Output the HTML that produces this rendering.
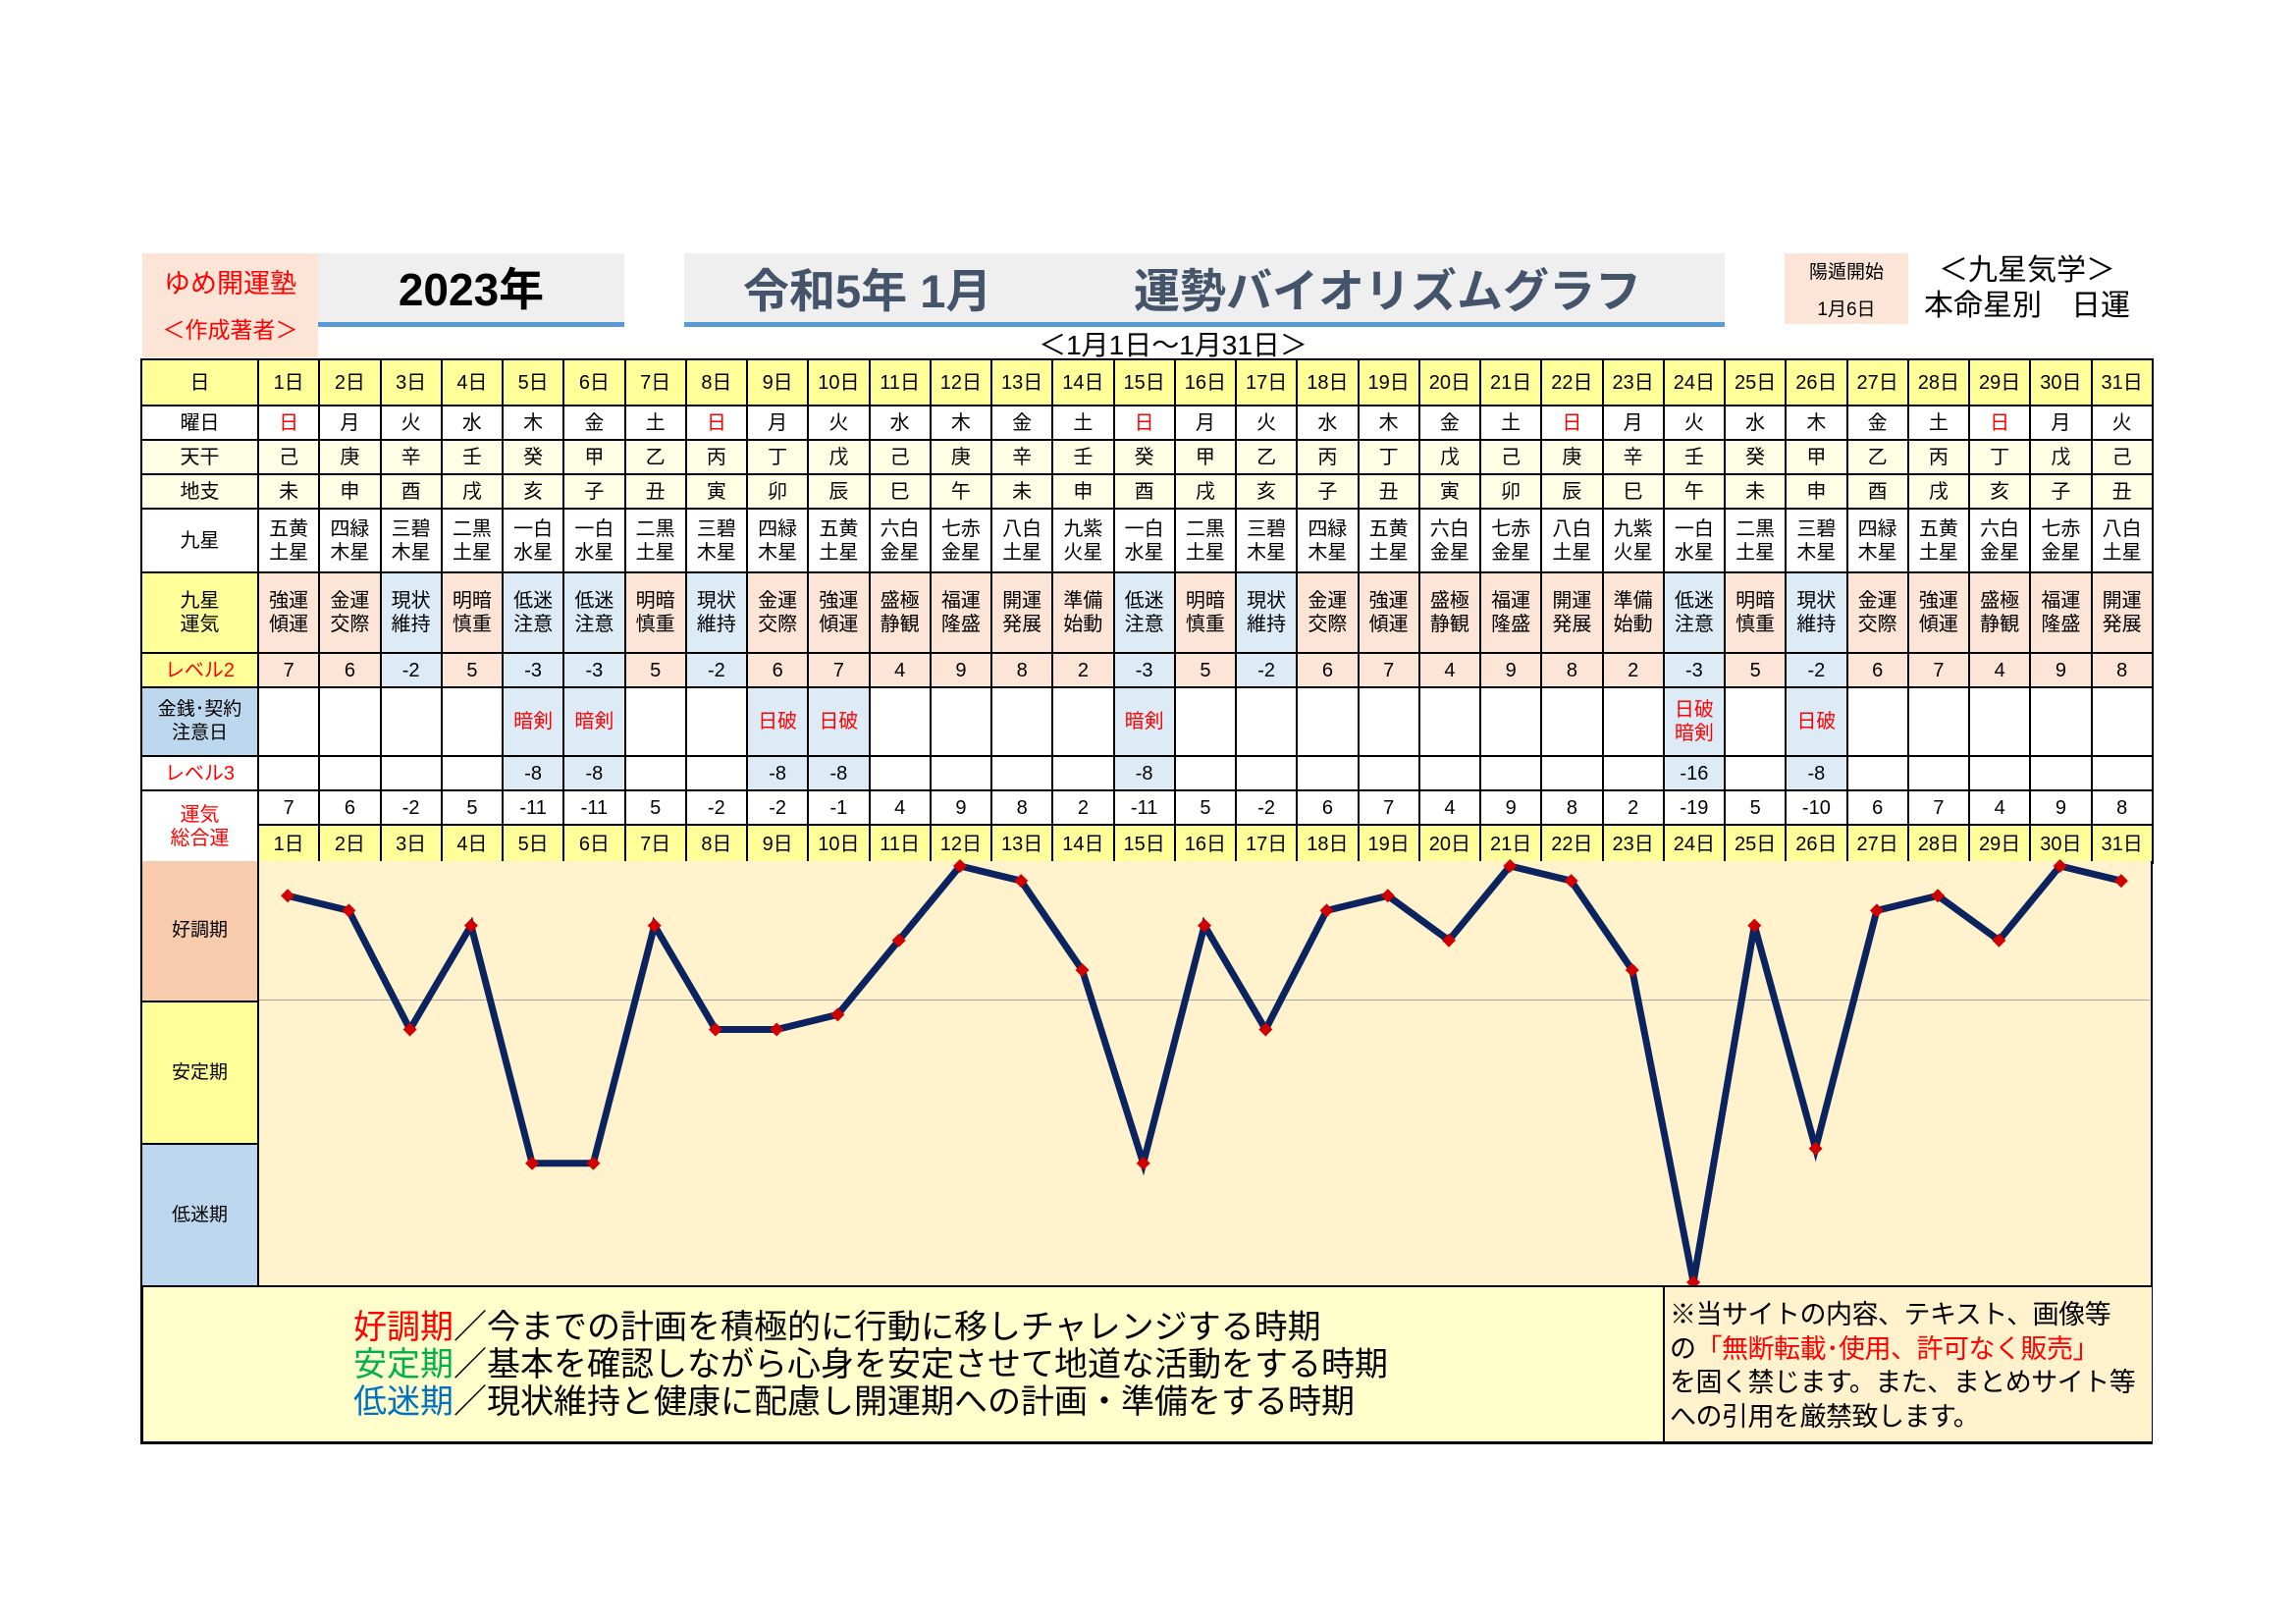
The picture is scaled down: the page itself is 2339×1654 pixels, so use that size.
<!DOCTYPE html>
<html><head><meta charset="utf-8"><style>
body{margin:0;width:2339px;height:1654px;background:#fff;position:relative;overflow:hidden;font-family:"Liberation Sans","Noto Sans CJK JP",sans-serif;}
.a{position:absolute;}
table{position:absolute;left:143px;top:365px;width:2050px;border-collapse:collapse;table-layout:fixed;}
td{border:2px solid #000;text-align:center;font-size:20px;padding:0;line-height:24px;overflow:hidden;}
td.h{background:#FFFF99;}
.r1 td{height:45px;background:#FFFF99;}
.r2 td{height:33px;background:#fff;}
.r3 td{height:33px;background:#FFFFE5;}
.r4 td{height:33px;background:#FFFFE5;}
.r5 td{height:63px;background:#fff;}
.r6 td{height:80px;}
.r7 td{height:33px;}
.r8 td{height:68px;background:#fff;}
.r9 td{height:33px;background:#fff;}
.r10 td{height:33px;background:#fff;}
.r11 td{height:37px;background:#FFFF99;}
.p{background:#FCE4D6 !important;}
.b{background:#DDEBF7 !important;}
.red{color:#f00;}
</style></head><body>
<div class="a" style="left:145px;top:258px;width:179px;height:106px;background:#FCE4D6;"></div>
<div class="a red" style="left:145px;top:267px;width:179px;text-align:center;font-size:27px;">ゆめ開運塾</div>
<div class="a red" style="left:145px;top:317px;width:179px;text-align:center;font-size:23px;">＜作成著者＞</div>
<div class="a" style="left:324px;top:258px;width:312px;height:70px;background:#EFEFEF;border-bottom:5px solid #5B9BD5;"></div>
<div class="a" style="left:324px;top:259px;width:312px;text-align:center;font-size:46px;font-weight:bold;">2023年</div>
<div class="a" style="left:697px;top:258px;width:1060px;height:70px;background:#EFEFEF;border-bottom:5px solid #5B9BD5;"></div>
<div class="a" style="left:757px;top:258px;font-size:47px;font-weight:bold;color:#44546A;">令和5年 1月</div>
<div class="a" style="left:1155px;top:258px;font-size:47px;font-weight:bold;color:#44546A;">運勢バイオリズムグラフ</div>
<div class="a" style="left:1818px;top:258px;width:126px;height:72px;background:#FCE4D6;"></div>
<div class="a" style="left:1818px;top:262px;width:126px;text-align:center;font-size:19px;">陽遁開始</div>
<div class="a" style="left:1818px;top:300px;width:126px;text-align:center;font-size:19px;">1月6日</div>
<div class="a" style="left:1955px;top:258px;width:220px;text-align:center;font-size:30px;line-height:36px;">＜九星気学＞<br>本命星別　日運</div>
<div class="a" style="left:995px;top:330px;width:400px;text-align:center;font-size:28px;">＜1月1日～1月31日＞</div>

<table>
<colgroup><col style="width:119px"><col span="31" style="width:62.26px"></colgroup>
<tr class="r1"><td>日</td><td>1日</td><td>2日</td><td>3日</td><td>4日</td><td>5日</td><td>6日</td><td>7日</td><td>8日</td><td>9日</td><td>10日</td><td>11日</td><td>12日</td><td>13日</td><td>14日</td><td>15日</td><td>16日</td><td>17日</td><td>18日</td><td>19日</td><td>20日</td><td>21日</td><td>22日</td><td>23日</td><td>24日</td><td>25日</td><td>26日</td><td>27日</td><td>28日</td><td>29日</td><td>30日</td><td>31日</td></tr>
<tr class="r2"><td class="h">曜日</td><td class="red">日</td><td>月</td><td>火</td><td>水</td><td>木</td><td>金</td><td>土</td><td class="red">日</td><td>月</td><td>火</td><td>水</td><td>木</td><td>金</td><td>土</td><td class="red">日</td><td>月</td><td>火</td><td>水</td><td>木</td><td>金</td><td>土</td><td class="red">日</td><td>月</td><td>火</td><td>水</td><td>木</td><td>金</td><td>土</td><td class="red">日</td><td>月</td><td>火</td></tr>
<tr class="r3"><td class="h">天干</td><td>己</td><td>庚</td><td>辛</td><td>壬</td><td>癸</td><td>甲</td><td>乙</td><td>丙</td><td>丁</td><td>戊</td><td>己</td><td>庚</td><td>辛</td><td>壬</td><td>癸</td><td>甲</td><td>乙</td><td>丙</td><td>丁</td><td>戊</td><td>己</td><td>庚</td><td>辛</td><td>壬</td><td>癸</td><td>甲</td><td>乙</td><td>丙</td><td>丁</td><td>戊</td><td>己</td></tr>
<tr class="r4"><td class="h">地支</td><td>未</td><td>申</td><td>酉</td><td>戌</td><td>亥</td><td>子</td><td>丑</td><td>寅</td><td>卯</td><td>辰</td><td>巳</td><td>午</td><td>未</td><td>申</td><td>酉</td><td>戌</td><td>亥</td><td>子</td><td>丑</td><td>寅</td><td>卯</td><td>辰</td><td>巳</td><td>午</td><td>未</td><td>申</td><td>酉</td><td>戌</td><td>亥</td><td>子</td><td>丑</td></tr>
<tr class="r5"><td class="h">九星</td><td>五黄<br>土星</td><td>四緑<br>木星</td><td>三碧<br>木星</td><td>二黒<br>土星</td><td>一白<br>水星</td><td>一白<br>水星</td><td>二黒<br>土星</td><td>三碧<br>木星</td><td>四緑<br>木星</td><td>五黄<br>土星</td><td>六白<br>金星</td><td>七赤<br>金星</td><td>八白<br>土星</td><td>九紫<br>火星</td><td>一白<br>水星</td><td>二黒<br>土星</td><td>三碧<br>木星</td><td>四緑<br>木星</td><td>五黄<br>土星</td><td>六白<br>金星</td><td>七赤<br>金星</td><td>八白<br>土星</td><td>九紫<br>火星</td><td>一白<br>水星</td><td>二黒<br>土星</td><td>三碧<br>木星</td><td>四緑<br>木星</td><td>五黄<br>土星</td><td>六白<br>金星</td><td>七赤<br>金星</td><td>八白<br>土星</td></tr>
<tr class="r6"><td class="h">九星<br>運気</td><td class="p">強運<br>傾運</td><td class="p">金運<br>交際</td><td class="b">現状<br>維持</td><td class="p">明暗<br>慎重</td><td class="b">低迷<br>注意</td><td class="b">低迷<br>注意</td><td class="p">明暗<br>慎重</td><td class="b">現状<br>維持</td><td class="p">金運<br>交際</td><td class="p">強運<br>傾運</td><td class="p">盛極<br>静観</td><td class="p">福運<br>隆盛</td><td class="p">開運<br>発展</td><td class="p">準備<br>始動</td><td class="b">低迷<br>注意</td><td class="p">明暗<br>慎重</td><td class="b">現状<br>維持</td><td class="p">金運<br>交際</td><td class="p">強運<br>傾運</td><td class="p">盛極<br>静観</td><td class="p">福運<br>隆盛</td><td class="p">開運<br>発展</td><td class="p">準備<br>始動</td><td class="b">低迷<br>注意</td><td class="p">明暗<br>慎重</td><td class="b">現状<br>維持</td><td class="p">金運<br>交際</td><td class="p">強運<br>傾運</td><td class="p">盛極<br>静観</td><td class="p">福運<br>隆盛</td><td class="p">開運<br>発展</td></tr>
<tr class="r7"><td class="h red">レベル2</td><td class="p">7</td><td class="p">6</td><td class="b">-2</td><td class="p">5</td><td class="b">-3</td><td class="b">-3</td><td class="p">5</td><td class="b">-2</td><td class="p">6</td><td class="p">7</td><td class="p">4</td><td class="p">9</td><td class="p">8</td><td class="p">2</td><td class="b">-3</td><td class="p">5</td><td class="b">-2</td><td class="p">6</td><td class="p">7</td><td class="p">4</td><td class="p">9</td><td class="p">8</td><td class="p">2</td><td class="b">-3</td><td class="p">5</td><td class="b">-2</td><td class="p">6</td><td class="p">7</td><td class="p">4</td><td class="p">9</td><td class="p">8</td></tr>
<tr class="r8"><td style="background:#BDD7EE;font-size:19px;">金銭･契約<br>注意日</td><td></td><td></td><td></td><td></td><td class="b red">暗剣</td><td class="b red">暗剣</td><td></td><td></td><td class="b red">日破</td><td class="b red">日破</td><td></td><td></td><td></td><td></td><td class="b red">暗剣</td><td></td><td></td><td></td><td></td><td></td><td></td><td></td><td></td><td class="b red">日破<br>暗剣</td><td></td><td class="b red">日破</td><td></td><td></td><td></td><td></td><td></td></tr>
<tr class="r9"><td class="h red">レベル3</td><td></td><td></td><td></td><td></td><td class="b">-8</td><td class="b">-8</td><td></td><td></td><td class="b">-8</td><td class="b">-8</td><td></td><td></td><td></td><td></td><td class="b">-8</td><td></td><td></td><td></td><td></td><td></td><td></td><td></td><td></td><td class="b">-16</td><td></td><td class="b">-8</td><td></td><td></td><td></td><td></td><td></td></tr>
<tr class="r10"><td class="h red" rowspan="2">運気<br>総合運</td><td>7</td><td>6</td><td>-2</td><td>5</td><td>-11</td><td>-11</td><td>5</td><td>-2</td><td>-2</td><td>-1</td><td>4</td><td>9</td><td>8</td><td>2</td><td>-11</td><td>5</td><td>-2</td><td>6</td><td>7</td><td>4</td><td>9</td><td>8</td><td>2</td><td>-19</td><td>5</td><td>-10</td><td>6</td><td>7</td><td>4</td><td>9</td><td>8</td></tr>
<tr class="r11"><td>1日</td><td>2日</td><td>3日</td><td>4日</td><td>5日</td><td>6日</td><td>7日</td><td>8日</td><td>9日</td><td>10日</td><td>11日</td><td>12日</td><td>13日</td><td>14日</td><td>15日</td><td>16日</td><td>17日</td><td>18日</td><td>19日</td><td>20日</td><td>21日</td><td>22日</td><td>23日</td><td>24日</td><td>25日</td><td>26日</td><td>27日</td><td>28日</td><td>29日</td><td>30日</td><td>31日</td></tr>
</table>

<div class="a" style="left:143px;top:877px;width:2046px;height:434px;border:2px solid #000;border-top:none;border-bottom:none;background:#FFF2CC;"></div>
<div class="a" style="left:143px;top:877px;width:117px;height:142px;background:#F8CBAD;border:2px solid #000;border-top:none;font-size:19px;line-height:142px;text-align:center;">好調期</div>
<div class="a" style="left:143px;top:1021px;width:117px;height:143px;background:#FFFF99;border:2px solid #000;border-top:none;font-size:19px;line-height:143px;text-align:center;">安定期</div>
<div class="a" style="left:143px;top:1166px;width:117px;height:143px;background:#BDD7EE;border:2px solid #000;border-top:none;font-size:19px;line-height:143px;text-align:center;">低迷期</div>
<div class="a" style="left:264px;top:1018px;width:1926px;height:1px;background:#A6A6A6;"></div>

<svg class="a" style="left:0;top:0" width="2339" height="1654">
<defs><path id="d" d="M0,-7 L7,0 L0,7 L-7,0Z" fill="#D00000"/></defs>
<polyline fill="none" stroke="#0B2460" stroke-width="7" points="293.1,912.3 355.4,927.4 417.6,1048.5 479.9,942.6 542.1,1184.8 604.4,1184.8 666.7,942.6 728.9,1048.5 791.2,1048.5 853.4,1033.4 915.7,957.7 978,882 1040.2,897.1 1102.5,988 1164.7,1184.8 1227,942.6 1289.3,1048.5 1351.5,927.4 1413.8,912.3 1476,957.7 1538.3,882 1600.6,897.1 1662.8,988 1725.1,1306 1787.3,942.6 1849.6,1169.7 1911.9,927.4 1974.1,912.3 2036.4,957.7 2098.6,882 2160.9,897.1"/>
<use href="#d" x="293.1" y="912.3"/><use href="#d" x="355.4" y="927.4"/><use href="#d" x="417.6" y="1048.5"/><use href="#d" x="479.9" y="942.6"/><use href="#d" x="542.1" y="1184.8"/><use href="#d" x="604.4" y="1184.8"/><use href="#d" x="666.7" y="942.6"/><use href="#d" x="728.9" y="1048.5"/><use href="#d" x="791.2" y="1048.5"/><use href="#d" x="853.4" y="1033.4"/><use href="#d" x="915.7" y="957.7"/><use href="#d" x="978" y="882"/><use href="#d" x="1040.2" y="897.1"/><use href="#d" x="1102.5" y="988"/><use href="#d" x="1164.7" y="1184.8"/><use href="#d" x="1227" y="942.6"/><use href="#d" x="1289.3" y="1048.5"/><use href="#d" x="1351.5" y="927.4"/><use href="#d" x="1413.8" y="912.3"/><use href="#d" x="1476" y="957.7"/><use href="#d" x="1538.3" y="882"/><use href="#d" x="1600.6" y="897.1"/><use href="#d" x="1662.8" y="988"/><use href="#d" x="1725.1" y="1306"/><use href="#d" x="1787.3" y="942.6"/><use href="#d" x="1849.6" y="1169.7"/><use href="#d" x="1911.9" y="927.4"/><use href="#d" x="1974.1" y="912.3"/><use href="#d" x="2036.4" y="957.7"/><use href="#d" x="2098.6" y="882"/><use href="#d" x="2160.9" y="897.1"/>
</svg>

<div class="a" style="left:143px;top:1309px;width:2044px;height:157px;border:3px solid #000;border-top:2px solid #000;background:#FFFFCC;"></div>
<div class="a" style="left:1694px;top:1311px;width:496px;height:157px;border-left:2px solid #000;background:#FFF2CC;"></div>
<div class="a" style="left:360px;top:1333px;font-size:34px;line-height:38px;white-space:nowrap;">
<span style="color:#f00">好調期</span>／今までの計画を積極的に行動に移しチャレンジする時期<br>
<span style="color:#00B050">安定期</span>／基本を確認しながら心身を安定させて地道な活動をする時期<br>
<span style="color:#0070C0">低迷期</span>／現状維持と健康に配慮し開運期への計画・準備をする時期</div>
<div class="a" style="left:1701px;top:1322px;font-size:27px;line-height:34.5px;white-space:nowrap;letter-spacing:-0.5px;">※当サイトの内容、テキスト、画像等<br>の<span style="color:#f00">「無断転載･使用、許可なく販売」</span><br>を固く禁じます。また、まとめサイト等<br>への引用を厳禁致します。</div>
</body></html>
